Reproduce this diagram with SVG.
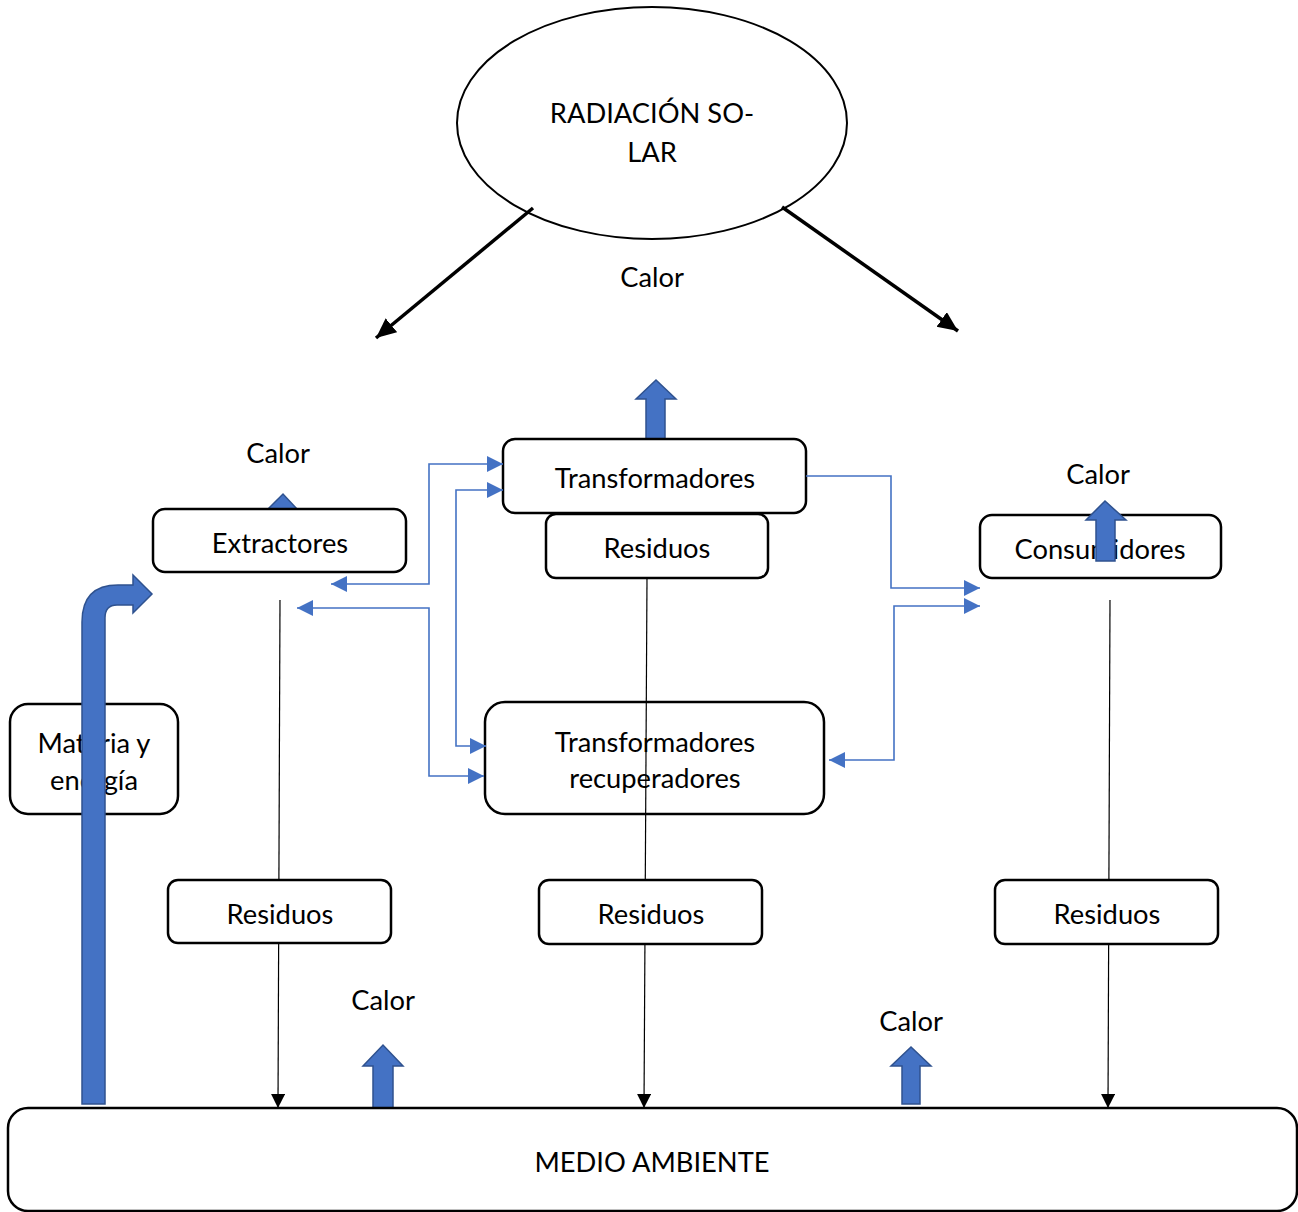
<svg xmlns="http://www.w3.org/2000/svg" width="1298" height="1212" viewBox="0 0 1298 1212">
<style>
.box{fill:#fff;stroke:#000;stroke-width:2.5}
.t{font-family:Lato,"Liberation Sans",sans-serif;font-size:27.3px;fill:#000;text-anchor:middle;dominant-baseline:central}
.blk{stroke:#000;stroke-width:1.2;fill:none}
.thick{stroke:#000;stroke-width:3.5;fill:none}
.blue{stroke:#4472C4;stroke-width:1.6;fill:none}
.heat{fill:#4472C4;stroke:#2F528F;stroke-width:1.5}
</style>
<defs>
<marker id="ab" markerUnits="userSpaceOnUse" markerWidth="16" markerHeight="16" refX="14" refY="7" orient="auto"><path d="M0,0 L14,7 L0,14 Z" fill="#000"/></marker>
<marker id="abig" markerUnits="userSpaceOnUse" markerWidth="22" markerHeight="22" refX="20" refY="9" orient="auto"><path d="M0,0 L20,9 L0,18 Z" fill="#000"/></marker>
<marker id="bl" markerUnits="userSpaceOnUse" markerWidth="18" markerHeight="18" refX="16" refY="8" orient="auto"><path d="M0,0 L16,8 L0,16 Z" fill="#4472C4"/></marker>
<marker id="bls" markerUnits="userSpaceOnUse" markerWidth="18" markerHeight="18" refX="0" refY="8" orient="auto"><path d="M16,0 L0,8 L16,16 Z" fill="#4472C4"/></marker>
</defs>

<g id="radiacion">
<ellipse cx="652" cy="123" rx="195" ry="116" fill="#fff" stroke="#000" stroke-width="2"/>
<text class="t" x="652" y="112">RADIACIÓN SO-</text>
<text class="t" x="652" y="151">LAR</text>
</g>
<text class="t" x="652" y="276">Calor</text>

<g id="extractores">
<path class="heat" d="M268,509 L283,494 L297,509 Z"/>
<rect class="box" x="153" y="509" width="253" height="63" rx="12"/>
<text class="t" x="280" y="542">Extractores</text>
</g>
<text class="t" x="278" y="452">Calor</text>

<g id="transformadores">
<path class="heat" d="M646,440 L646,399 L636,399 L656,380 L676,399 L665,399 L665,440 Z"/>
<rect class="box" x="503" y="439" width="303" height="74" rx="12"/>
<text class="t" x="655" y="477">Transformadores</text>
</g>
<g id="residuos-t">
<rect class="box" x="546" y="514" width="222" height="64" rx="10"/>
<text class="t" x="657" y="547">Residuos</text>
</g>

<g id="consumidores">
<rect class="box" x="980" y="515" width="241" height="63" rx="12"/>
<text class="t" x="1100" y="548">Consumidores</text>
<path class="heat" d="M1096,561 L1096,520 L1086,520 L1105,501 L1126,520 L1115,520 L1115,561 Z"/>
</g>
<text class="t" x="1098" y="473">Calor</text>

<g id="recuperadores">
<rect class="box" x="485" y="702" width="339" height="112" rx="20"/>
<text class="t" x="655" y="741">Transformadores</text>
<text class="t" x="655" y="777">recuperadores</text>
</g>

<g id="materia">
<rect class="box" x="10" y="704" width="168" height="110" rx="18"/>
<text class="t" x="94" y="742">Materia y</text>
<text class="t" x="94" y="779">energía</text>
<path class="heat" d="M82,1104 L82,622 Q82,585 118,585 L133,585 L133,575 L152,594 L133,613 L133,605 L117,605 Q105,605 105,618 L105,1104 Z"/>
</g>

<g id="connectors">
<line class="thick" x1="533" y1="208" x2="376" y2="338" marker-end="url(#abig)"/>
<line class="thick" x1="782" y1="207" x2="958" y2="331" marker-end="url(#abig)"/>
<polyline class="blue" points="806,476 891,476 891,588 980,588" marker-end="url(#bl)"/>
<polyline class="blue" points="829,760 894,760 894,606 980,606" marker-start="url(#bls)" marker-end="url(#bl)"/>
<polyline class="blue" points="331,584 429,584 429,464 503,464" marker-start="url(#bls)" marker-end="url(#bl)"/>
<polyline class="blue" points="503,490 456,490 456,746 486,746" marker-start="url(#bls)" marker-end="url(#bl)"/>
<polyline class="blue" points="297,608 429,608 429,776 484,776" marker-start="url(#bls)" marker-end="url(#bl)"/>
<line class="blk" x1="280" y1="600" x2="278" y2="1108" marker-end="url(#ab)"/>
<line class="blk" x1="647" y1="578" x2="644" y2="1108" marker-end="url(#ab)"/>
<line class="blk" x1="1110" y1="600" x2="1108" y2="1108" marker-end="url(#ab)"/>
</g>

<g id="residuos-1">
<rect class="box" x="168" y="880" width="223" height="63" rx="10"/>
<text class="t" x="280" y="913">Residuos</text>
</g>
<g id="residuos-2">
<rect class="box" x="539" y="880" width="223" height="64" rx="10"/>
<text class="t" x="651" y="913">Residuos</text>
</g>
<g id="residuos-3">
<rect class="box" x="995" y="880" width="223" height="64" rx="10"/>
<text class="t" x="1107" y="913">Residuos</text>
</g>

<g id="calor-bottom">
<path class="heat" d="M373,1108 L373,1066 L363,1066 L383,1045 L403,1066 L393,1066 L393,1108 Z"/>
<text class="t" x="383" y="999">Calor</text>
<path class="heat" d="M902,1104 L902,1066 L891,1066 L911,1047 L931,1066 L920,1066 L920,1104 Z"/>
<text class="t" x="911" y="1020">Calor</text>
</g>

<g id="medio-ambiente">
<rect class="box" x="8" y="1108" width="1289" height="103" rx="20"/>
<text class="t" x="652" y="1161">MEDIO AMBIENTE</text>
</g>
</svg>
